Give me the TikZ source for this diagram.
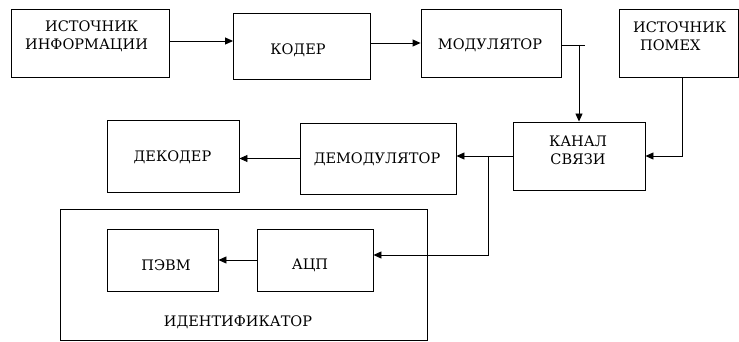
\documentclass[tikz,border=0pt]{standalone}
\usepackage{fontspec}
\setmainfont{DejaVu Serif}
\newfontfamily\tnr{DejaVu Serif}
\usetikzlibrary{arrows.meta}
\begin{document}
\begin{tikzpicture}[x=1pt,y=-1pt,
  box/.style={draw,line width=0.9pt,inner sep=0pt},
  txt/.style={align=center,font=\tnr\fontsize{14.5}{18}\selectfont,inner sep=0pt},
  arr/.style={line width=0.9pt,-{Triangle[length=8pt,width=7pt]}},
  ln/.style={line width=0.9pt}]
\useasboundingbox (0,0) rectangle (739,342);
% boxes
\node[box,minimum width=158,minimum height=68] (src) at (90,43) {};
\node[txt,align=left,anchor=west] (srct) at (25,36) {\hspace*{20pt}ИСТОЧНИК\\ИНФОРМАЦИИ};
\node[box,minimum width=137,minimum height=66] (kod) at (302,46) {};
\node[txt] (kodt) at (298,50) {КОДЕР};
\node[box,minimum width=140,minimum height=68] (mod) at (491,43) {};
\node[txt] (modt) at (490,45) {МОДУЛЯТОР};
\node[box,minimum width=119,minimum height=68] (pom) at (678.5,43) {};
\node[txt,align=left,anchor=west] (pomt) at (633,36) {ИСТОЧНИК\\\hspace*{7pt}ПОМЕХ};
\node[box,minimum width=132,minimum height=68] (kan) at (579,156) {};
\node[txt] (kant) at (578,150) {КАНАЛ\\СВЯЗИ};
\node[box,minimum width=132,minimum height=72] (dek) at (173,156) {};
\node[txt] (dekt) at (172.5,157) {ДЕКОДЕР};
\node[box,minimum width=156,minimum height=71] (dem) at (378,158.5) {};
\node[txt] (demt) at (377,159) {ДЕМОДУЛЯТОР};
\node[box,minimum width=367,minimum height=131] (idf) at (243.5,274.5) {};
\node[txt] (idft) at (238,322) {ИДЕНТИФИКАТОР};
\node[box,minimum width=111,minimum height=62] (pc) at (162.5,260) {};
\node[txt] (pct) at (166,265) {ПЭВМ};
\node[box,minimum width=116,minimum height=62] (adc) at (315,260) {};
\node[txt] (adct) at (310,265) {АЦП};
% connectors
\coordinate (a1) at (169,41);
\draw[arr] (a1) -- (a1 -| kod.west);
\draw[arr] (kod.east |- mod.east) -- (mod.west);
\coordinate (mt) at (585,45);
\draw[ln] (mod.east |- mt) -- (mt);
\draw[arr] (kan.north |- mt) -- (kan.north);
\draw[arr] (pom.south -| 682,0) |- (kan.east);
\draw[arr] (kan.west) -- (kan.west -| dem.east);
\draw[arr] (dem.west) -- (dem.west -| dek.east);
\coordinate (j1) at (488,156);
\coordinate (j2) at (488,255);
\draw[arr] (j1) -- (j2) -- (j2 -| adc.east);
\draw[arr] (adc.west) -- (adc.west -| pc.east);
\end{tikzpicture}
\end{document}
